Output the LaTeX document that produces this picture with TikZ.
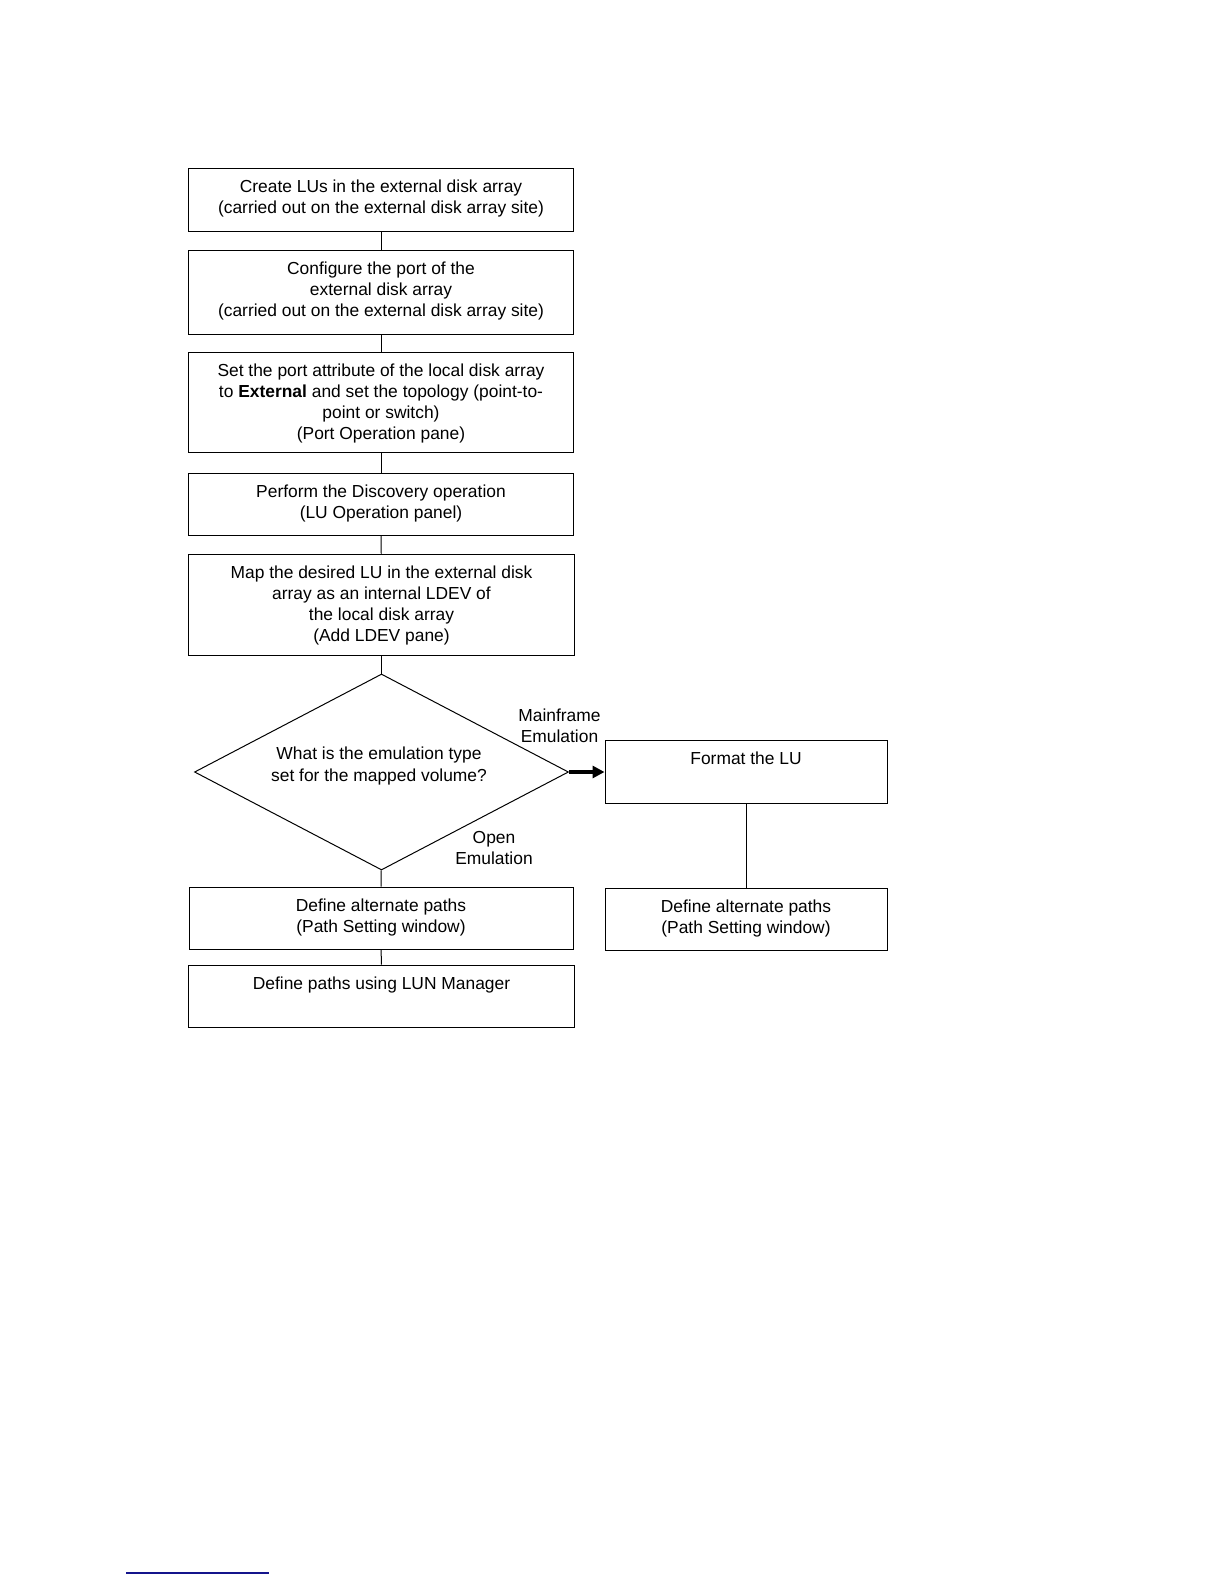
\documentclass[tikz,border=0pt]{standalone}
\usepackage{fontspec}
\setmainfont{Liberation Sans}
\usetikzlibrary{arrows.meta,shapes.geometric}
\definecolor{linkblue}{RGB}{20,20,140}
\newcommand\bxt[3]{\parbox[c][#2][t]{#1}{\centering\vspace*{4.75pt}\strut #3\par}}
\begin{document}
\begin{tikzpicture}[x=0.5pt,y=-0.5pt,
  box/.style={draw, line width=0.5pt, inner sep=0pt, font=\fontsize{8.7}{10.5}\selectfont},
  lbl/.style={inner sep=0pt, align=center, font=\fontsize{8.7}{10.5}\selectfont},
  conn/.style={line width=0.5pt},
  yesarrow/.style={line width=1.6pt, -{Triangle[length=6pt,width=6pt]}}]
\path[use as bounding box, fill=white] (0,0) rectangle (1224,1584);

\node[box] (b1) at (381,199.5) {\bxt{192.5pt}{31.5pt}{Create LUs in the external disk array\\(carried out on the external disk array site)}};
\node[box] (b2) at (381,292) {\bxt{192.5pt}{42pt}{Configure the port of the\\external disk array\\(carried out on the external disk array site)}};
\node[box] (b3) at (381,402) {\bxt{192.5pt}{50pt}{Set the port attribute of the local disk array\\to \textbf{External} and set the topology (point-to-\\point or switch)\\(Port Operation pane)}};
\node[box] (b4) at (381,504) {\bxt{192.5pt}{31pt}{Perform the Discovery operation\\(LU Operation panel)}};
\node[box] (b5) at (381.5,604.5) {\bxt{193pt}{50.5pt}{Map the desired LU in the external disk\\array as an internal LDEV of\\the local disk array\\(Add LDEV pane)}};

\node[draw, diamond, line width=0.5pt, inner sep=0pt, minimum width=187pt, minimum height=98pt] (dia) at (381.5,772) {};
\node[lbl, font=\fontsize{8.7}{11}\selectfont] (dtext) at (379,766) {What is the emulation type\\set for the mapped volume?};

\node[box] (fmt) at (746,771.5) {\bxt{141pt}{31.5pt}{Format the LU}};
\node[box] (rdef) at (746,919) {\bxt{141pt}{31pt}{Define alternate paths\\(Path Setting window)}};
\node[box] (ldef) at (381,918) {\bxt{192pt}{31pt}{Define alternate paths\\(Path Setting window)}};
\node[box] (lun) at (381.5,996) {\bxt{193pt}{31pt}{Define paths using LUN Manager}};

\node[lbl] (mf) at (559.5,725.5) {Mainframe\\Emulation};
\node[lbl] (op) at (494,848) {Open\\Emulation};

\draw[conn] (b1) -- (b2);
\draw[conn] (b2) -- (b3);
\draw[conn] (b3) -- (b4);
\draw[conn] (b4) -- (b5);
\draw[conn] (b5) -- (dia);
\draw[conn] (dia) -- (ldef);
\draw[conn] (ldef) -- (lun);
\draw[conn] (fmt) -- (rdef);
\draw[yesarrow] (dia.east) -- (dia.east -| fmt.west);

\coordinate (u1) at (126,1573);
\coordinate (u2) at (269,1573);
\draw[linkblue, line width=1pt] (u1) -- (u2);
\end{tikzpicture}
\end{document}
